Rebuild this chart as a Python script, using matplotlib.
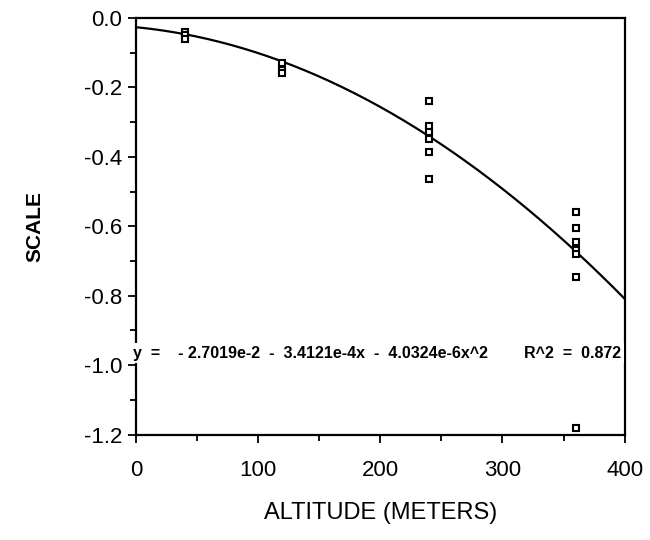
import numpy as np
import matplotlib
matplotlib.use("Agg")
import matplotlib.pyplot as plt
from matplotlib.ticker import MultipleLocator, FormatStrFormatter

plt.rcParams['font.family'] = ['Liberation Sans', 'DejaVu Sans']
plt.rcParams['axes.unicode_minus'] = False

# Observations: altitude (m) and scale values
altitude = [40, 40, 40,
            120, 120, 120,
            240, 240, 240, 240, 240, 240,
            360, 360, 360, 360, 360, 360, 360]
scale = [-0.04, -0.05, -0.06,
         -0.13, -0.15, -0.16,
         -0.24, -0.31, -0.33, -0.35, -0.385, -0.465,
         -0.558, -0.604, -0.645, -0.668, -0.68, -0.745, -1.18]

# Quadratic fit coefficients
c0, c1, c2 = -2.7019e-2, -3.4121e-4, -4.0324e-6
r_squared = 0.872

fig = plt.figure(figsize=(6.5, 5.4), dpi=100)
ax = fig.add_axes([0.209, 0.195, 0.752, 0.772])

xs = np.linspace(0, 400, 200)
ax.plot(xs, c0 + c1 * xs + c2 * xs ** 2, color='black', lw=1.6)
ax.plot(altitude, scale, linestyle='none', marker='s', markersize=5,
        markerfacecolor='white', markeredgecolor='black', markeredgewidth=1.5)

ax.set_xlim(0, 400)
ax.set_ylim(-1.2, 0.0)
ax.xaxis.set_major_locator(MultipleLocator(100))
ax.xaxis.set_minor_locator(MultipleLocator(50))
ax.yaxis.set_major_locator(MultipleLocator(0.2))
ax.yaxis.set_minor_locator(MultipleLocator(0.1))
ax.yaxis.set_major_formatter(FormatStrFormatter('%.1f'))
ax.tick_params(which='both', direction='out', width=1.3, labelsize=16)
ax.tick_params(which='major', length=6)
ax.tick_params(which='minor', length=4)
ax.tick_params(axis='x', pad=12)
ax.tick_params(axis='y', pad=4)
for sp in ax.spines.values():
    sp.set_linewidth(1.6)

ax.set_xlabel('ALTITUDE (METERS)', fontsize=17, labelpad=15)
ax.set_ylabel('SCALE', fontsize=15, fontweight='bold', labelpad=28)

eq = ("y  =    - 2.7019e-2  -  3.4121e-4x  -  4.0324e-6x^2        "
      f"R^2  =  {r_squared:.3f}")
ax.text(-2, -0.965, eq, fontsize=11.5, fontweight='bold', ha='left', va='center',
        bbox=dict(facecolor='white', edgecolor='none', pad=1.5), zorder=5)

fig.savefig('out.png', dpi=100)
